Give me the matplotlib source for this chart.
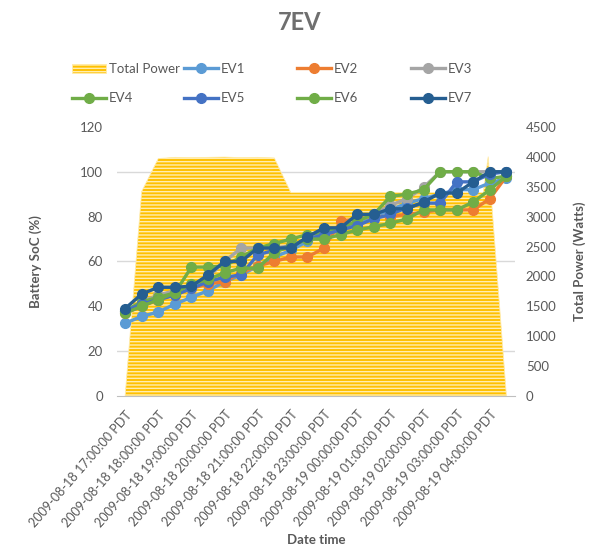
import numpy as np
import matplotlib
matplotlib.use("Agg")
import matplotlib.pyplot as plt
from matplotlib.ticker import MultipleLocator

plt.rcParams['font.family'] = ['Lato', 'DejaVu Sans']
plt.rcParams['hatch.linewidth'] = 1.0

# Half-hour categories from 2009-08-18 17:00 PDT (in hours)
half_hours = np.arange(24) * 0.5
tick_labels = ['2009-08-18 17:00:00 PDT', '2009-08-18 18:00:00 PDT', '2009-08-18 19:00:00 PDT',
               '2009-08-18 20:00:00 PDT', '2009-08-18 21:00:00 PDT', '2009-08-18 22:00:00 PDT',
               '2009-08-18 23:00:00 PDT', '2009-08-19 00:00:00 PDT', '2009-08-19 01:00:00 PDT',
               '2009-08-19 02:00:00 PDT', '2009-08-19 03:00:00 PDT', '2009-08-19 04:00:00 PDT']

# Total power (Watts)
power_t = [0, 0.5, 1.0, 1.5, 2.0, 2.5, 3.0, 3.5, 4.0, 4.5, 5.0, 10.8, 10.95, 11.5]
power = [0, 3420, 3970, 3990, 3985, 3990, 3995, 3985, 3990, 3980, 3400, 3400, 4000, 0]

# Battery state of charge (%)
ev1 = [32.5, 35.5, 37.5, 41, 44, 47, 51, 54, 58, 62, 65, 69, 72, 74, 77, 80, 83, 86, 88, 90, 92, 92, 95, 97]
ev2 = [37, 40, 43, 45, 48, 50, 51, 55, 58, 60, 62, 62, 66, 78, 79, 80, 80, 81, 82, 83, 83, 83, 88, 98]
ev3 = [38, 42, 45, 47, 49, 53, 60, 66, 66, 66, 67, 70, 73, 75, 78, 81, 85, 88, 93, 100, 100, 100, 100, 100]
ev4 = [38, 42, 44, 46, 57.5, 57.5, 58, 62, 66, 68, 70, 72, 73, 75, 78, 81, 89, 90, 92, 100, 100, 100, 97, 98]
ev5 = [38, 41, 43, 45, 48, 51, 53, 54, 63, 65, 67, 70, 72, 74, 76, 79, 81, 84, 86, 86, 95.5, 95.5, 99, 100]
ev6 = [37, 40, 43, 46, 50, 52, 55, 57, 57, 64, 67, 70, 70, 72, 74, 75.5, 77, 79, 83, 83, 83, 86.5, 92, 98]
ev7 = [39, 45.5, 48.5, 48.5, 49, 54, 60, 60, 66, 66, 66, 71, 75, 75, 81, 81, 83.5, 83.5, 86.5, 90.5, 90.5, 95.5, 100, 100]

series = [('EV1', ev1, '#5B9BD5'), ('EV2', ev2, '#ED7D31'), ('EV3', ev3, '#A5A5A5'),
          ('EV4', ev4, '#70AD47'), ('EV5', ev5, '#4472C4'), ('EV6', ev6, '#70AD47'),
          ('EV7', ev7, '#255E91')]

txt = '#595959'
fig = plt.figure(figsize=(5.93, 5.54), dpi=100)
ax = fig.add_axes([0.197, 0.285, 0.671, 0.486])
ax2 = ax.twinx()

# area on the secondary axis, behind the lines
area = ax2.fill_between(power_t, power, color='#FFC000', edgecolor='#FFEDB0',
                        hatch='-----', linewidth=0.6, label='Total Power')
ax2.set_ylim(0, 4500)
ax2.yaxis.set_major_locator(MultipleLocator(500))
ax2.yaxis.set_minor_locator(MultipleLocator(750))
ax2.grid(which='minor', axis='y', color='#D9D9D9', linewidth=1)
ax2.set_axisbelow(True)
ax2.tick_params(axis='y', which='both', length=0, labelsize=9.5, labelcolor=txt, pad=8)
ax2.set_ylabel('Total Power (Watts)', fontsize=9.5, fontweight='bold', color=txt, labelpad=12)

ax.set_zorder(ax2.get_zorder() + 1)
ax.patch.set_visible(False)
handles = {}
for name, vals, col in series:
    h, = ax.plot(half_hours, vals, '-o', color=col, lw=2.4, ms=7, label=name)
    handles[name] = h
handles['Total Power'] = area

ax.set_ylim(0, 120)
ax.set_xlim(-0.25, 11.75)
ax.yaxis.set_major_locator(MultipleLocator(20))
ax.set_xticks(np.arange(12))
ax.set_xticklabels(tick_labels, rotation=49, ha='right', va='top', rotation_mode='anchor')
ax.tick_params(axis='both', length=0, labelsize=9.5, labelcolor=txt)
ax.tick_params(axis='x', labelsize=9.1, pad=9)
ax.tick_params(axis='y', pad=10)
ax.set_ylabel('Battery SoC (%)', fontsize=9.5, fontweight='bold', color=txt, labelpad=27)
ax.set_xlabel('Date time', fontsize=9.5, fontweight='bold', color=txt, labelpad=4)

for a in (ax, ax2):
    for s in a.spines.values():
        s.set_visible(False)
ax2.spines['bottom'].set_visible(True)
ax2.spines['bottom'].set_color('#BFBFBF')

fig.text(0.505, 0.96, '7EV', ha='center', va='center', fontsize=17, fontweight='bold', color='#6F6F6F')

# four equal-width legend columns, like Excel
columns = [['Total Power', 'EV4'], ['EV1', 'EV5'], ['EV2', 'EV6'], ['EV3', 'EV7']]
col_x = [72, 184, 297, 411]
for names, x in zip(columns, col_x):
    fig.legend([handles[n] for n in names], names, loc='upper left',
               bbox_to_anchor=(x / 593, 1 - 63 / 554), frameon=False, fontsize=9.5,
               labelcolor=txt, handlelength=2.6, handletextpad=0.2, labelspacing=1.3,
               borderaxespad=0, borderpad=0)

fig.savefig('out.png', dpi=100)
